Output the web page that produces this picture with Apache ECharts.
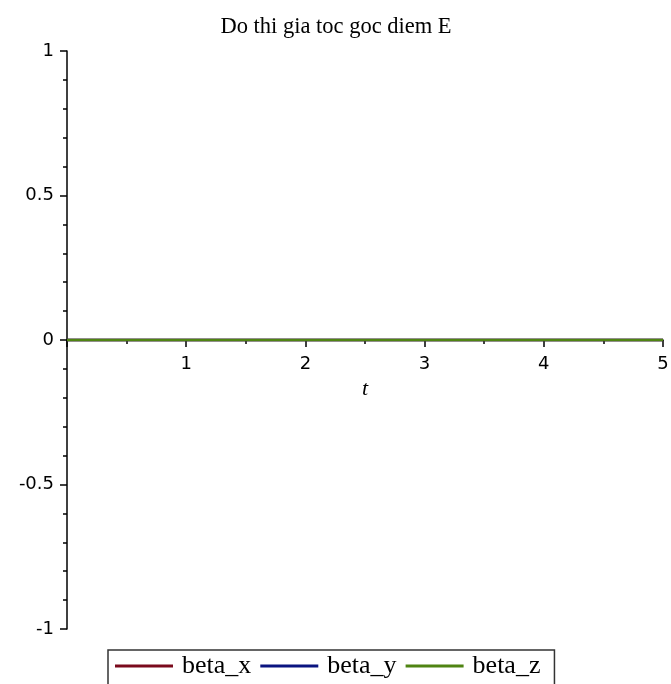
<!DOCTYPE html>
<html>
<head>
<meta charset="utf-8">
<script src="https://cdn.jsdelivr.net/npm/echarts@6/dist/echarts.min.js"></script>
<style>
  html, body { margin: 0; padding: 0; background: #ffffff; }
  #chart { width: 671px; height: 684px; }
</style>
</head>
<body>
<div id="chart"></div>
<script>
// Angular acceleration components of point E over time t
const tValues = [0, 1, 2, 3, 4, 5];
const betaX = [0, 0, 0, 0, 0, 0];
const betaY = [0, 0, 0, 0, 0, 0];
const betaZ = [0, 0, 0, 0, 0, 0];
const seriesNames = ['beta_x', 'beta_y', 'beta_z'];
const seriesColors = ['#7a0a1c', '#0a1480', '#4f8412'];
const titleText = 'Do thi gia toc goc diem E';
const xName = 't';

const pairs = (ys) => tValues.map((t, i) => [t, ys[i]]);
const seriesData = [betaX, betaY, betaZ];

const W = 671, H = 684;
const gridTop = 51, gridBottom = 55;
// the horizontal axis sits on y = 0, i.e. half-way up the plot area
const zeroOffset = -(H - gridTop - gridBottom) / 2;

const labelFont = { fontFamily: 'DejaVu Sans', fontSize: 18, color: '#000' };
const serif = 'Liberation Serif, Times New Roman, serif';

const chart = echarts.init(document.getElementById('chart'), null, { renderer: 'canvas' });
chart.setOption({
  animation: false,
  backgroundColor: '#ffffff',
  title: {
    text: titleText,
    left: 331,
    textAlign: 'center',
    top: 11,
    textStyle: { fontFamily: serif, fontSize: 22.5, fontWeight: 'normal', color: '#000' }
  },
  grid: { left: 67, right: 8, top: gridTop, bottom: gridBottom, containLabel: false, outerBoundsMode: 'none' },
  xAxis: {
    type: 'value',
    position: 'bottom',
    offset: zeroOffset,
    min: 0, max: 5, interval: 1,
    name: xName,
    nameLocation: 'middle',
    nameGap: 38,
    nameTextStyle: { fontFamily: serif, fontSize: 22, fontStyle: 'italic', color: '#000' },
    axisLine: { onZero: false, lineStyle: { color: '#000', width: 1.5 } },
    axisTick: { show: true, length: 7, lineStyle: { color: '#000', width: 1.5 } },
    minorTick: { show: true, splitNumber: 2, length: 4, lineStyle: { color: '#000', width: 1.5 } },
    axisLabel: Object.assign({ margin: 15, showMinLabel: false,
      formatter: (v) => (v === 0 ? '' : String(v)) }, labelFont),
    splitLine: { show: false }
  },
  yAxis: {
    type: 'value',
    min: -1, max: 1, interval: 0.5,
    axisLine: { show: true, onZero: false, lineStyle: { color: '#000', width: 1.5 } },
    axisTick: { show: true, length: 7, lineStyle: { color: '#000', width: 1.5 } },
    minorTick: { show: true, splitNumber: 5, length: 4, lineStyle: { color: '#000', width: 1.5 } },
    axisLabel: Object.assign({ margin: 13 }, labelFont),
    splitLine: { show: false }
  },
  legend: {
    left: 108,
    top: 650,
    icon: 'rect',
    itemWidth: 58,
    itemHeight: 3,
    itemGap: 9,
    padding: [3, 14, 8, 7],
    borderColor: '#333',
    borderWidth: 1.5,
    data: seriesNames,
    textStyle: { fontFamily: serif, fontSize: 26, color: '#000', padding: [0, 0, 0, 4] }
  },
  series: seriesNames.map((name, i) => ({
    name: name,
    type: 'line',
    data: pairs(seriesData[i]),
    showSymbol: false,
    symbol: 'none',
    lineStyle: { color: seriesColors[i], width: 2.5 },
    itemStyle: { color: seriesColors[i] },
    z: 3 + i
  }))
});
</script>
</body>
</html>
